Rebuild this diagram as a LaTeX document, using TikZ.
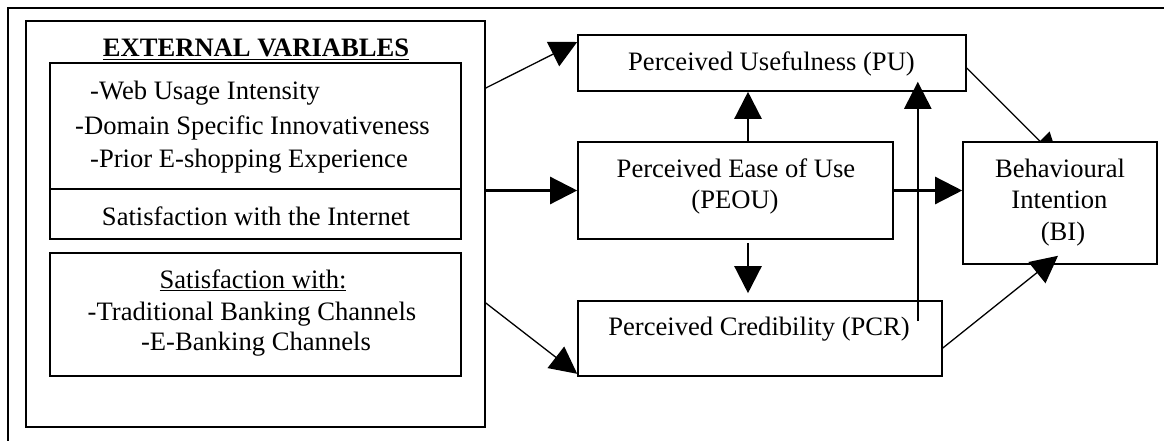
\documentclass[tikz,border=0pt]{standalone}
\usepackage{fontspec}
\setmainfont{Liberation Serif}
\usetikzlibrary{arrows.meta,calc,backgrounds}
\begin{document}
\begin{tikzpicture}[x=1pt,y=-1pt,
  box/.style={draw,line width=1.6pt,fill=white,inner sep=0pt},
  txt/.style={inner sep=0pt,anchor=base,font=\fontsize{26.6}{31}\selectfont},
  ltxt/.style={txt,anchor=base west},
  headarr/.style={-{Triangle[length=27pt,width=27pt]}},
  thinconn/.style={line width=1.3pt,headarr},
  thickconn/.style={line width=2.4pt,headarr}]
\useasboundingbox (0,0) rectangle (1164,441);

% open outer frame
\draw[line width=1.5pt] (8,441) -- (8,8) -- (1164,8);

% external variables block
\node[box,minimum width=459pt,minimum height=406pt] (ev) at (255.5,224) {};
\node[box,minimum width=411pt,minimum height=126pt] (g1) at (255.5,126) {};
\node[box,minimum width=411pt,minimum height=50pt]  (g2) at (255.5,214) {};
\node[box,minimum width=411pt,minimum height=123pt] (g3) at (255.5,314.5) {};

% model constructs
\node[box,minimum width=388pt,minimum height=56pt] (pu)   at (772,63) {};
\node[box,minimum width=315pt,minimum height=97pt] (peou) at (735.5,190.5) {};
\node[box,minimum width=364pt,minimum height=75pt] (pcr)  at (760,338.5) {};
\node[box,minimum width=194pt,minimum height=122pt] (bi)  at (1060,203) {};

% PU -> BI runs under the BI box
\begin{pgfonlayer}{background}
\draw[thinconn] ([yshift=-5pt]pu.east) -- ([shift={(-1pt,-19pt)}]bi.north);
\end{pgfonlayer}

% texts
\node[txt] (title) at (256,57) {\textbf{\underline{EXTERNAL VARIABLES}}};
\node[ltxt] (w1) at (90,100) {-Web Usage Intensity};
\node[ltxt] (w2) at (75,135) {-Domain Specific Innovativeness};
\node[ltxt] (w3) at (90,167) {-Prior E-shopping Experience};
\node[txt] (si) at (256,225) {Satisfaction with the Internet};
\node[txt] (sw) at (253,288) {\underline{Satisfaction with:}};
\node[txt] (tb) at (252,320) {-Traditional Banking Channels};
\node[txt] (eb) at (256,350) {-E-Banking Channels};

\node[txt] (tpu) at (771.5,71) {Perceived Usefulness (PU)};
\node[txt] (tpe1) at (736,177) {Perceived Ease of Use};
\node[txt] (tpe2) at (735,208) {(PEOU)};
\node[txt] (tpcr) at (759,335) {Perceived Credibility (PCR)};
\node[txt] (tbi1) at (1060,177) {Behavioural};
\node[txt] (tbi2) at (1059.5,208) {Intention};
\node[txt] (tbi3) at (1063,240) {(BI)};

% connectors
\draw[thinconn] ([yshift=136pt]ev.east) -- ([yshift=21pt]pu.west);
\draw[thickconn] (ev.east |- peou.west) -- (peou.west);
\draw[thinconn] ([yshift=-79pt]ev.east) -- ([yshift=3pt]pcr.south west);
\draw[thickconn] ([xshift=12.5pt]peou.north) -- ($(peou.north |- pu.south)+(12.5,0)$);
\draw[thickconn] ([shift={(12.5pt,-3pt)}]peou.south) -- ($(peou.south |- pcr.north)+(12.5,-7)$);
\draw[thickconn] (peou.east) -- (bi.west |- peou.east);
\draw[thickconn] ([shift={(-25pt,17.5pt)}]pcr.east) -- ($(pcr.east |- pu.south)+(-25,-10)$);
\draw[thinconn] ([yshift=-9.5pt]pcr.east) -- ([shift={(-2pt,9pt)}]bi.south);
\end{tikzpicture}
\end{document}
